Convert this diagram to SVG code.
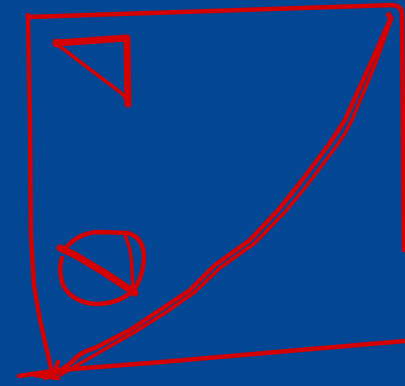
<svg xmlns="http://www.w3.org/2000/svg" width="405" height="386" viewBox="0 0 405 386">
<style>
.s{fill:none;stroke:#d40000;stroke-linecap:round;stroke-linejoin:round}
.w4{stroke-width:4.5}
.w3{stroke-width:3.5}
.w6{stroke-width:7}
</style>
<rect width="405" height="386" fill="#034694"/>
<g id="frame">
<path class="s w4" d="M28,17 L393,5 Q402,6 402,14 L404,250"/>
<path class="s w4" d="M28,15 L30,120 L31,235 L34,285 L40,320 L52,372"/>
<path class="s w4" d="M19,376 L60,370 L150,363 L300,350 L405,341"/>
<path class="s w4" d="M45,378 L52,372 M58,362 L54,376 M35,375 L58,378"/>
</g>
<g id="curve">
<path class="s w4" d="M388,15 Q390,12 390,20 L370,65 L345,120 L330,143 L300,183 L280,208 L250,240 L215,265 L190,290 L160,310 L130,330 L95,348 Q80,352 72,362 L58,372"/>
<path class="s w3" d="M392,18 L375,65 L352,120 Q345,135 335,148 L305,188 L285,212 L255,243 L220,268 L195,292 L165,313 L135,332 L100,352 L60,375"/>
</g>
<g id="triangle">
<path class="s w6" d="M57,43 L127,38 L128,104"/>
<path class="s w3" d="M58,45 L120,92 Q126,97 128,104"/>
<circle cx="57" cy="43" r="4.5" fill="#d40000"/>
</g>
<g id="circle">
<path class="s w4" d="M64,250 Q78,232 100,232 L128,233 Q145,238 144,260 Q142,280 133,291 Q118,304 95,304 Q72,302 63,285 Q58,270 62,258"/>
<path class="s w3" d="M125,235 Q132,250 132,270 L133,290"/>
<path class="s w6" d="M60,248 L75,255 L105,273 L135,293"/>
</g>
</svg>
